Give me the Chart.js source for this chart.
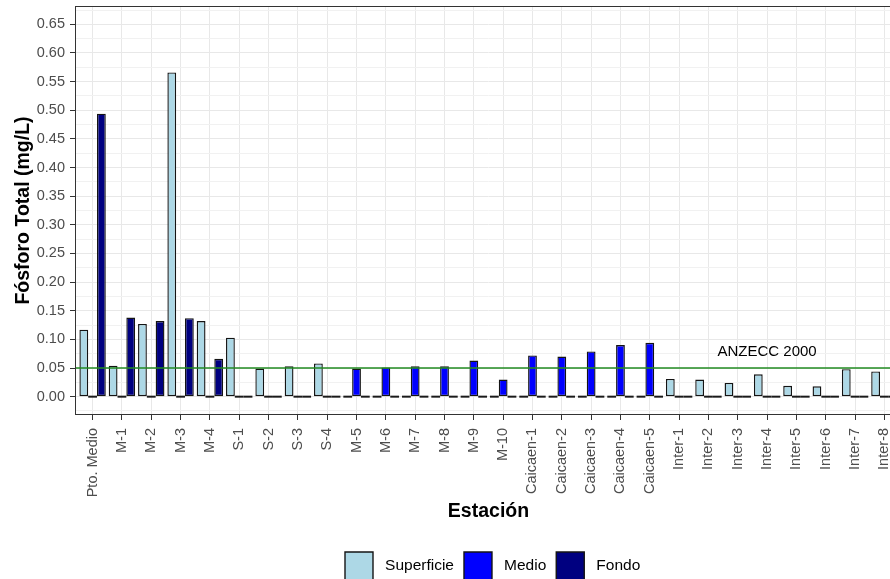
<!DOCTYPE html>
<html>
<head>
<meta charset="utf-8">
<script src="https://cdn.jsdelivr.net/npm/chart.js@4.4.1/dist/chart.umd.min.js"></script>
<style>
html, body { margin: 0; padding: 0; background: #fff; overflow: hidden; }
#wrap { width: 910px; height: 590px; }
</style>
</head>
<body>
<div id="wrap"><canvas id="chart" width="910" height="590"></canvas></div>
<script>
const estaciones = ['Pto. Medio', 'M-1', 'M-2', 'M-3', 'M-4', 'S-1', 'S-2', 'S-3', 'S-4',
    'M-5', 'M-6', 'M-7', 'M-8', 'M-9', 'M-10',
    'Caicaen-1', 'Caicaen-2', 'Caicaen-3', 'Caicaen-4', 'Caicaen-5',
    'Inter-1', 'Inter-2', 'Inter-3', 'Inter-4', 'Inter-5', 'Inter-6', 'Inter-7', 'Inter-8'];
const superficie = [0.117, 0.054, 0.127, 0.566, 0.132, 0.103, 0.049, 0.053, 0.058,
    0, 0, 0, 0, 0, 0,
    0, 0, 0, 0, 0,
    0.031, 0.030, 0.024, 0.039, 0.019, 0.018, 0.048, 0.044];
const medio = [0, 0, 0, 0, 0, 0, 0, 0, 0,
    0.049, 0.051, 0.053, 0.053, 0.063, 0.030,
    0.072, 0.070, 0.079, 0.090, 0.094,
    0, 0, 0, 0, 0, 0, 0, 0];
const fondo = [0.494, 0.138, 0.132, 0.137, 0.066, 0, 0, 0, 0,
    0, 0, 0, 0, 0, 0,
    0, 0, 0, 0, 0,
    0, 0, 0, 0, 0, 0, 0, 0];
const series = ['Superficie', 'Medio', 'Fondo'];
const colores = ['#ADD8E6', '#0000FF', '#000080'];

const umbral = 0.05;
const umbralTexto = 'ANZECC 2000';
const umbralEstacion = 'Inter-4';
const umbralTextoY = 0.078;
const yMin = -0.032;
const yMax = 0.682;

const FONT = '"Liberation Sans", Arial, Helvetica, sans-serif';
Chart.defaults.font.family = FONT;

const isMajor = v => Math.abs(Math.round(v * 40)) % 2 === 0;

function serie(i, data) {
    return {
        label: series[i],
        data: data.map((v, k) => ({ x: k, y: v })),
        backgroundColor: ctx => ctx.raw && ctx.raw.y === 0 ? '#1a1a1a' : colores[i],
        borderColor: '#141414',
        borderWidth: ctx => ctx.raw && ctx.raw.y === 0 ? 0 : 1.4,
        borderSkipped: false,
        minBarLength: 2,
        barPercentage: 1,
        categoryPercentage: 0.9
    };
}

const panelPlugin = {
    id: 'panel',
    afterLayout(chart) {
        if (chart.legend) chart.legend.left = 335;
    },
    afterDatasetsDraw(chart) {
        const {ctx, chartArea: a, scales: {x, y}} = chart;
        const yy = y.getPixelForValue(umbral);
        ctx.save();
        ctx.strokeStyle = '#228B22';
        ctx.lineWidth = 1.5;
        ctx.beginPath();
        ctx.moveTo(a.left, yy);
        ctx.lineTo(a.right, yy);
        ctx.stroke();
        ctx.fillStyle = '#000';
        ctx.font = '15px ' + FONT;
        ctx.textAlign = 'center';
        ctx.textBaseline = 'middle';
        ctx.fillText(umbralTexto, x.getPixelForValue(estaciones.indexOf(umbralEstacion)), y.getPixelForValue(umbralTextoY));
        ctx.strokeStyle = '#333333';
        ctx.lineWidth = 1;
        ctx.strokeRect(a.left + 0.5, a.top + 0.5, a.width - 1, a.height - 1);
        ctx.restore();
    }
};

const chart = new Chart(document.getElementById('chart').getContext('2d'), {
    type: 'bar',
    data: {
        datasets: [serie(0, superficie), serie(1, medio), serie(2, fondo)]
    },
    options: {
        responsive: false,
        animation: false,
        layout: { padding: { left: 0, top: 6, right: 8, bottom: 0 } },
        scales: {
            x: {
                type: 'linear',
                min: -0.6,
                max: estaciones.length - 0.4,
                offset: false,
                afterFit: scale => {
                    scale.height = 127;
                    scale.paddingLeft = 0;
                    scale.paddingRight = 0;
                },
                grid: {
                    offset: false,
                    color: '#E8E8E8',
                    tickColor: '#333333',
                    tickLength: 5
                },
                border: { display: false },
                ticks: {
                    stepSize: 1,
                    includeBounds: false,
                    autoSkip: false,
                    minRotation: 90,
                    maxRotation: 90,
                    padding: 8,
                    color: '#4D4D4D',
                    font: { size: 14.5 },
                    callback: v => estaciones[v] || ''
                },
                title: {
                    display: true,
                    text: 'Estación',
                    color: '#000',
                    font: { size: 19.5, weight: 'bold' },
                    padding: { top: 4, bottom: 19 }
                }
            },
            y: {
                type: 'linear',
                min: yMin,
                max: yMax,
                afterFit: scale => {
                    scale.width = 75;
                    scale.paddingTop = 0;
                    scale.paddingBottom = 0;
                },
                grid: {
                    color: ctx => isMajor(ctx.tick ? ctx.tick.value : 0) ? '#E8E8E8' : '#F1F1F1',
                    tickColor: ctx => ctx.tick && isMajor(ctx.tick.value) ? '#333333' : 'rgba(0,0,0,0)',
                    tickLength: 5
                },
                border: { display: false },
                ticks: {
                    stepSize: 0.025,
                    includeBounds: false,
                    autoSkip: false,
                    padding: 5,
                    color: '#4D4D4D',
                    font: { size: 14.5 },
                    callback: v => isMajor(v) ? v.toFixed(2) : ''
                },
                title: {
                    display: true,
                    text: 'Fósforo Total (mg/L)',
                    color: '#000',
                    font: { size: 19.5, weight: 'bold' },
                    padding: { top: 12, bottom: 0 }
                }
            }
        },
        plugins: {
            legend: {
                display: true,
                position: 'bottom',
                align: 'start',
                labels: {
                    boxWidth: 28,
                    boxHeight: 28,
                    padding: 10,
                    color: '#000',
                    font: { size: 15.5 },
                    generateLabels: c => c.data.datasets.map((d, i) => ({
                        text: ' ' + d.label,
                        fillStyle: colores[i],
                        strokeStyle: '#141414',
                        lineWidth: 1.4,
                        hidden: false,
                        datasetIndex: i
                    }))
                }
            },
            tooltip: { enabled: false }
        }
    },
    plugins: [panelPlugin]
});
</script>
</body>
</html>
